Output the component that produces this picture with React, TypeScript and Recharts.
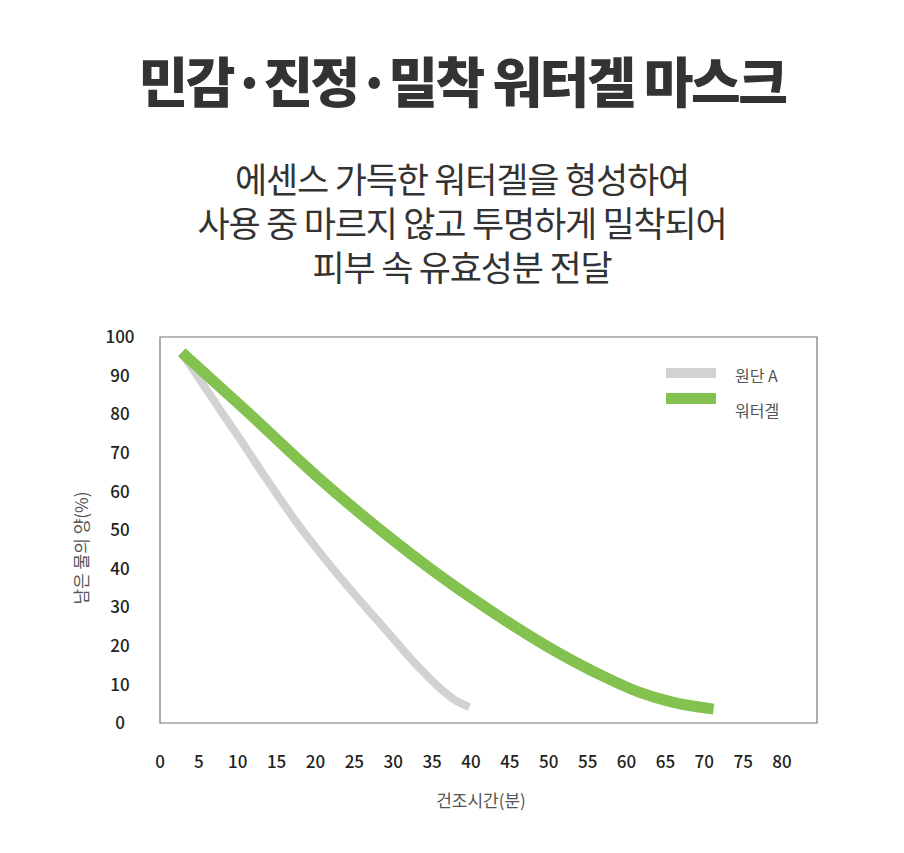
import React from "react";
import { LineChart, Line, XAxis, YAxis, ReferenceArea } from "recharts";

// 원단 A
const fabricMinutes = [2.8, 6, 10.3, 14, 18, 21.5, 25, 29, 33.4, 35.8, 37.9, 39.8];
const fabricValues = [96, 86.3, 73.5, 62.3, 50.8, 41.8, 33.4, 24.2, 14.2, 9.4, 6, 4.1];

// 워터겔
const gelMinutes = [2.8, 10.7, 20.5, 29.1, 34.7, 41.1, 51.3, 56.5, 61.6, 65.9, 71.2];
const gelValues = [96, 81.6, 63.3, 48.8, 40.1, 31, 18.1, 12.6, 8, 5.4, 3.6];

const seriesNames = ["원단 A", "워터겔"];
const seriesColors = ["#d1d3d2", "#84c24f"];

const xTicks = [0, 5, 10, 15, 20, 25, 30, 35, 40, 45, 50, 55, 60, 65, 70, 75, 80];
const yTicks = [0, 10, 20, 30, 40, 50, 60, 70, 80, 90, 100];

const subtitleLines = [
  "에센스 가득한 워터겔을 형성하여",
  "사용 중 마르지 않고 투명하게 밀착되어",
  "피부 속 유효성분 전달",
];

const fabricData = fabricMinutes.map((m, i) => ({ minute: m, value: fabricValues[i] }));
const gelData = gelMinutes.map((m, i) => ({ minute: m, value: gelValues[i] }));

const FONT = '"Noto Sans CJK KR", "Noto Sans", sans-serif';

const Tick = (props: any) => {
  const { x, y, payload } = props;
  return (
    <text
      x={x}
      y={y}
      dy="0.36em"
      textAnchor="middle"
      fill="#231f20"
      fontSize={17}
      fontWeight={500}
      fontFamily={FONT}
    >
      {payload.value}
    </text>
  );
};

export default function App() {
  return (
    <div
      style={{
        position: "absolute",
        left: 0,
        top: 0,
        width: 904,
        height: 853,
        background: "#fff",
        fontFamily: FONT,
      }}
    >
      <div
        style={{
          position: "absolute",
          left: 0,
          top: 53,
          width: 924,
          textAlign: "center",
          fontSize: 54,
          fontWeight: 900,
          letterSpacing: -2.5,
          lineHeight: "54px",
          color: "#333",
          whiteSpace: "nowrap",
        }}
      >
        민감·진정·밀착 워터겔 마스크
      </div>
      {subtitleLines.map((l, i) => (
        <div
          key={i}
          style={{
            position: "absolute",
            left: 0,
            top: 159 + i * 44,
            width: 924,
            height: 38,
            textAlign: "center",
            fontSize: 35,
            fontWeight: 400,
            letterSpacing: -1.2,
            lineHeight: "38px",
            color: "#333",
            whiteSpace: "nowrap",
          }}
        >
          {l}
        </div>
      ))}

      <div style={{ position: "absolute", left: 0, top: 0 }}>
        <LineChart
          width={904}
          height={853}
          margin={{ top: 337, right: 87, left: 0, bottom: 70 }}
        >
          <ReferenceArea
            x1={0}
            x2={84.5}
            y1={0}
            y2={100}
            fill="none"
            stroke="#7a7576"
            strokeWidth={1.2}
            ifOverflow="visible"
          />
          <XAxis
            dataKey="minute"
            type="number"
            domain={[0, 84.5]}
            ticks={xTicks}
            allowDataOverflow
            axisLine={false}
            tickLine={false}
            tickSize={0}
            tickMargin={39}
            height={60}
            tick={<Tick />}
            interval={0}
          />
          <YAxis
            dataKey="value"
            type="number"
            domain={[0, 100]}
            ticks={yTicks}
            axisLine={false}
            tickLine={false}
            tickSize={0}
            tickMargin={40}
            width={160}
            tick={<Tick />}
            interval={0}
          />
          <Line
            data={fabricData}
            dataKey="value"
            name={seriesNames[0]}
            type="monotone"
            stroke={seriesColors[0]}
            strokeWidth={8}
            strokeLinecap="butt"
            dot={false}
            activeDot={false}
            isAnimationActive={false}
          />
          <Line
            data={gelData}
            dataKey="value"
            name={seriesNames[1]}
            type="monotone"
            stroke={seriesColors[1]}
            strokeWidth={11}
            strokeLinecap="butt"
            dot={false}
            activeDot={false}
            isAnimationActive={false}
          />
        </LineChart>
      </div>

      {/* legend */}
      {seriesNames.map((name, i) => (
        <React.Fragment key={name}>
          <div
            style={{
              position: "absolute",
              left: 666,
              top: i === 0 ? 368 : 393,
              width: 50,
              height: i === 0 ? 10 : 11,
              background: seriesColors[i],
            }}
          />
          <div
            style={{
              position: "absolute",
              left: 735,
              top: i === 0 ? 365 : 400,
              fontSize: 16,
              lineHeight: "20px",
              color: "#555",
              whiteSpace: "nowrap",
            }}
          >
            {name}
          </div>
        </React.Fragment>
      ))}

      <div
        style={{
          position: "absolute",
          left: 381,
          top: 788,
          width: 200,
          textAlign: "center",
          fontSize: 17,
          lineHeight: "24px",
          color: "#555",
        }}
      >
        건조시간(분)
      </div>
      <div
        style={{
          position: "absolute",
          left: 1,
          top: 536,
          width: 160,
          textAlign: "center",
          fontSize: 17,
          lineHeight: "24px",
          color: "#555",
          transform: "rotate(-90deg)",
          whiteSpace: "nowrap",
        }}
      >
        남은 물의 양(%)
      </div>
    </div>
  );
}
